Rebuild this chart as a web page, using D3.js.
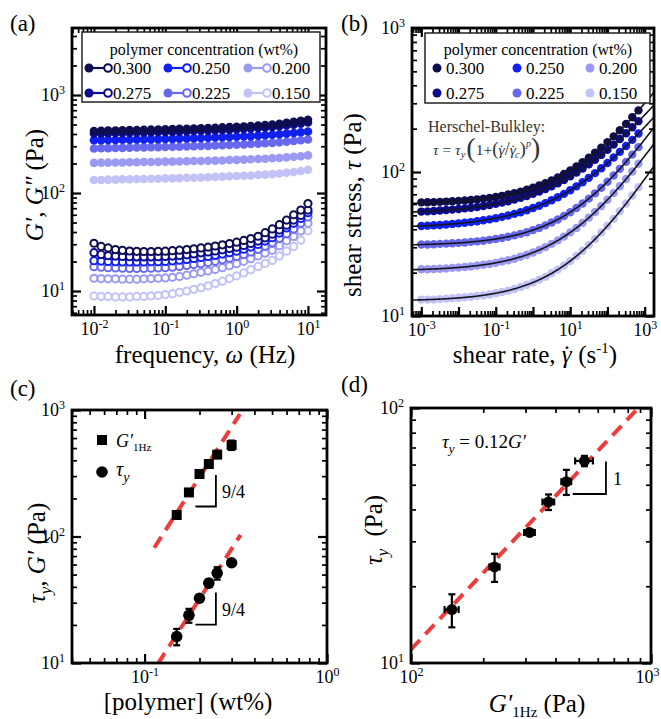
<!DOCTYPE html>
<html>
<head>
<meta charset="utf-8">
<script src="https://cdnjs.cloudflare.com/ajax/libs/d3/7.8.5/d3.min.js"></script>
<style>
  body { margin: 0; background: #fff; }
  svg, svg text { font-family: "Liberation Serif", "Times New Roman", Times, serif; }
</style>
</head>
<body>
<svg id="fig" width="661" height="719" font-family="Liberation Serif, Times New Roman, serif"></svg>
<script>
// ---- data ----
const concLabels = ['0.300', '0.275', '0.250', '0.225', '0.200', '0.150']
const concColors = ['#0d0d4f', '#0b0b8c', '#1020ee', '#6868ee', '#9a9af2', '#c2c2f6']

// (a) frequency sweeps
const freqHz = [0.01, 0.0126, 0.0158, 0.02, 0.0251, 0.0316, 0.0398, 0.0501, 0.0631, 0.0794,
  0.1, 0.126, 0.158, 0.2, 0.251, 0.316, 0.398, 0.501, 0.631, 0.794,
  1, 1.26, 1.58, 2, 2.51, 3.16, 3.98, 5.01, 6.31, 7.94, 10]
const storageMod = [
  [430,432,433,435,436,438,440,441,443,445,447,449,451,453,456,458,461,464,467,470,474,478,483,488,494,501,510,520,532,545,560],
  [405,406,408,409,411,412,414,415,417,419,421,423,425,427,429,432,434,437,440,443,447,451,455,460,466,472,480,489,499,511,525],
  [345,346,347,348,349,350,351,352,353,355,356,357,359,360,362,364,366,368,370,373,375,378,381,385,389,393,398,404,410,417,425],
  [285,286,287,288,289,290,291,292,293,294,295,296,297,299,300,302,303,305,307,309,311,313,316,319,322,325,329,334,339,345,352],
  [203,204,204,205,205,206,206,207,207,208,209,209,210,211,212,212,213,214,215,217,218,219,221,222,224,226,228,231,234,237,242],
  [136,136,137,137,138,138,139,139,140,140,141,141,142,143,143,144,145,146,147,148,149,150,151,153,154,156,158,161,164,168,173]
]
const lossMod = [
  [30.7,28.5,27.5,26.5,26.0,25.6,25.4,25.3,25.3,25.4,25.5,25.8,26.1,26.5,27.0,27.5,28.1,28.8,29.6,30.5,31.5,32.8,34.3,36.2,39.4,43.0,47.5,53.0,60.0,67.0,78.0],
  [24.6,23.6,23.0,22.7,22.5,22.4,22.3,22.3,22.3,22.4,22.5,22.7,23.0,23.4,23.9,24.5,25.0,25.6,26.3,27.1,28.0,29.2,30.6,32.3,34.9,38.0,42.0,47.0,53.0,59.0,67.0],
  [20.4,20.2,20.0,19.9,19.8,19.8,19.8,19.8,19.9,19.9,20.0,20.3,20.6,21.0,21.5,22.0,22.5,23.1,23.8,24.6,25.5,26.7,28.1,29.9,32.3,35.0,39.0,44.0,49.0,55.0,63.0],
  [17.7,17.5,17.3,17.2,17.1,17.0,17.0,17.0,17.1,17.2,17.3,17.5,17.8,18.2,18.6,19.0,19.5,20.1,20.8,21.6,22.5,23.6,25.0,26.6,28.7,31.0,34.5,38.5,43.0,49.0,57.0],
  [13.5,13.4,13.3,13.3,13.2,13.2,13.2,13.3,13.4,13.5,13.6,13.8,14.1,14.5,15.0,15.5,16.0,16.6,17.3,18.1,19.0,20.1,21.4,22.8,24.3,26.0,29.0,32.5,36.0,41.0,49.0],
  [8.9,8.8,8.8,8.7,8.7,8.7,8.8,8.8,8.9,9.0,9.2,9.4,9.7,10.0,10.4,10.8,11.3,11.9,12.6,13.4,14.3,15.3,16.5,17.8,19.1,20.5,22.8,25.5,28.5,33.0,41.0]
]

// (b) flow curves
const shearRate = [0.001, 0.00147, 0.00215, 0.00316, 0.00464, 0.00681, 0.01, 0.0147, 0.0215, 0.0316, 0.0464, 0.0681,
  0.1, 0.147, 0.215, 0.316, 0.464, 0.681, 1, 1.47, 2.15, 3.16, 4.64, 6.81,
  10, 14.7, 21.5, 31.6, 46.4, 68.1, 100, 147, 215, 316, 464, 681]
const shearStress = [
  [61.5,61.6,61.8,62.0,62.3,62.6,63.0,63.4,64.0,64.6,65.3,66.1,67.1,68.3,69.7,71.3,73.1,75.2,77.7,80.5,83.7,87.5,91.8,96.8,102.5,109.2,116.9,125.7,135.9,147.7,161.3,176.9,195.0,215.9,240.0,267.8],
  [53.1,53.3,53.6,54.0,54.4,54.8,55.3,55.9,56.5,57.2,58.1,59.0,60.1,61.3,62.7,64.3,66.1,68.2,70.5,73.2,76.2,79.7,83.6,88.1,93.2,99.0,105.6,113.1,121.6,131.4,142.4,155.0,169.4,185.7,204.3,225.4],
  [42.2,42.4,42.7,42.9,43.2,43.6,44.0,44.4,44.9,45.5,46.2,46.9,47.8,48.8,49.9,51.2,52.6,54.3,56.2,58.3,60.8,63.6,66.8,70.5,74.7,79.5,84.9,91.1,98.2,106.3,115.5,126.0,138.0,151.6,167.2,185.0],
  [31.4,31.4,31.5,31.7,31.8,32.0,32.2,32.4,32.7,33.0,33.3,33.8,34.3,34.8,35.5,36.3,37.2,38.2,39.5,40.9,42.6,44.6,46.8,49.5,52.6,56.2,60.4,65.3,71.1,77.8,85.6,94.6,105.2,117.6,132.0,148.8],
  [21.1,21.1,21.2,21.3,21.4,21.6,21.7,21.9,22.1,22.4,22.7,23.0,23.4,23.9,24.4,25.0,25.8,26.6,27.6,28.8,30.1,31.7,33.5,35.6,38.1,40.9,44.3,48.2,52.8,58.0,64.2,71.4,79.7,89.5,100.8,114.0],
  [13.0,13.0,13.0,13.1,13.2,13.3,13.4,13.5,13.6,13.8,13.9,14.1,14.4,14.7,15.0,15.4,15.9,16.5,17.1,17.9,18.7,19.8,21.0,22.4,24.1,26.1,28.4,31.1,34.3,38.0,42.3,47.4,53.4,60.4,68.6,78.3]
]
// Herschel-Bulkley fit parameters per concentration
const hbTauY = [59.4, 51.2, 40.8, 30.8, 20.6, 12.7]
const hbRateC = [23.5, 18.1, 17.2, 23.7, 15.2, 13.0]
const hbPower = [0.373, 0.337, 0.343, 0.40, 0.397, 0.414]

// (c), (d) scaling
const polymerConc = [0.15, 0.175, 0.2, 0.225, 0.25, 0.3]
const gPrime1Hz = [148, 223, 312, 374, 444, 528]
const gPrimeErr = [10, 11, 16, 21, 21, 45]
const yieldStress = [16.2, 23.8, 32.5, 42.8, 51.4, 62]
const yieldErr = [2.4, 3, 0.8, 3, 5.8, 2.9]
const powerLawExp = 2.25
const powerLawG = 11000, powerLawTau = 1200
const fitRangeG = [0.113, 0.333], fitRangeTau = [0.118, 0.336]
const ratioFit = 0.113

const SERIF = 'Liberation Serif, Times New Roman, serif'
const svg = d3.select('#fig')
const defs = svg.append('defs')

function panel(id, x0, y0, x1, y1) {
  const w = x1 - x0, h = y1 - y0
  defs.append('clipPath').attr('id', 'clip-' + id)
    .append('rect').attr('width', w).attr('height', h)
  const g = svg.append('g').attr('transform', `translate(${x0},${y0})`)
  return { g, w, h, clip: `url(#clip-${id})` }
}

// little helper for sub/superscripts
function rich(sel, parts) {
  let shift = 0
  parts.forEach(p => {
    const ts = sel.append('tspan').text(p.t)
    const s = p.s || 0
    if (s !== shift) { ts.attr('dy', s - shift); shift = s }
    if (p.i) ts.attr('font-style', 'italic')
    if (p.f) ts.attr('font-size', p.f)
    if (p.dx) ts.attr('dx', p.dx)
  })
  return sel
}
// gamma-dot: one tspan, the dot shifted back over the gamma with a per-glyph dx
const gdot = size => ({ t: 'γ˙', i: 1, dx: `0 ${-size * 0.42}` })
const gdotBack = size => size * 0.1

const isMajor = v => Math.abs(Math.log10(v) - Math.round(Math.log10(v))) < 1e-6

function addAxes(P, x, y, xLab, yLab) {
  const specs = [
    [d3.axisBottom(x), `translate(0,${P.h})`, x, xLab],
    [d3.axisTop(x), 'translate(0,0)', x, null],
    [d3.axisLeft(y), 'translate(0,0)', y, yLab],
    [d3.axisRight(y), `translate(${P.w},0)`, y, null]
  ]
  specs.forEach(([axis, tr, sc, lab]) => {
    const dom = sc.domain()
    const all = sc.ticks(Math.ceil(Math.log10(dom[1] / dom[0])) + 1)
    P.g.append('g').attr('transform', tr)
      .call(axis.tickValues(all.filter(v => !isMajor(v))).tickSizeInner(-5).tickSizeOuter(0).tickFormat(''))
      .call(s => s.select('.domain').remove())
      .call(s => s.selectAll('line').attr('stroke-width', 1.7))
    const gm = P.g.append('g').attr('transform', tr)
      .call(axis.tickValues(all.filter(isMajor)).tickSizeInner(-9).tickPadding(7).tickFormat(''))
      .call(s => s.select('.domain').remove())
      .call(s => s.selectAll('line').attr('stroke-width', 2.2))
      .attr('font-family', SERIF).attr('font-size', 18)
    if (lab) {
      gm.selectAll('.tick text').each(function (d) {
        const e = Math.round(Math.log10(d))
        if (!lab.includes(e)) return
        const t = d3.select(this)
        t.append('tspan').text('10')
        t.append('tspan').attr('dy', -7).attr('font-size', 12).text(e)
      })
    }
  })
  // drop the empty tick texts
  P.g.selectAll('.tick text').filter(function () { return !this.textContent }).remove()
  P.g.append('rect').attr('width', P.w).attr('height', P.h)
    .attr('fill', 'none').attr('stroke', '#000').attr('stroke-width', 2.8)
}

function txt(x, y, size) {
  return svg.append('text').attr('x', x).attr('y', y).attr('font-size', size).attr('font-family', SERIF)
}

function axisTitle(x, y, rotate, parts, size) {
  const t = svg.append('text').attr('text-anchor', 'middle').attr('font-size', size || 25)
    .attr('font-family', SERIF)
    .attr('transform', `translate(${x},${y})` + (rotate ? ' rotate(-90)' : ''))
  return rich(t, parts)
}

const order = [5, 4, 3, 2, 1, 0]

// ---------------- (a) ----------------
const A = panel('a', 72, 28, 326, 315)
const xa = d3.scaleLog().domain([0.00492, 17.9]).range([0, A.w])
const ya = d3.scaleLog().domain([5.69, 4830]).range([A.h, 0])
order.forEach(k => {
  A.g.append('g').selectAll('circle').data(freqHz).join('circle')
    .attr('cx', d => xa(d)).attr('cy', (d, i) => ya(storageMod[k][i]))
    .attr('r', 4.3).attr('fill', concColors[k])
  A.g.append('g').selectAll('circle').data(freqHz).join('circle')
    .attr('cx', d => xa(d)).attr('cy', (d, i) => ya(lossMod[k][i]))
    .attr('r', 3.6).attr('fill', '#fff').attr('stroke', concColors[k]).attr('stroke-width', 2)
})
addAxes(A, xa, ya, [-2, -1, 0, 1], [1, 2, 3])

const legA = svg.append('g')
legA.append('rect').attr('x', 82).attr('y', 32).attr('width', 238).attr('height', 70)
  .attr('fill', '#fff').attr('stroke', '#222').attr('stroke-width', 1.5)
txt(204, 55, 16).attr('text-anchor', 'middle').text('polymer concentration (wt%)')
concLabels.forEach((c, k) => {
  const cx = [89, 168, 248][Math.floor(k / 2)], cy = [68, 93][k % 2]
  legA.append('line').attr('x1', cx).attr('x2', cx + 19).attr('y1', cy).attr('y2', cy)
    .attr('stroke', concColors[k]).attr('stroke-width', 2.2)
  legA.append('circle').attr('cx', cx).attr('cy', cy).attr('r', 4.5).attr('fill', concColors[k])
  legA.append('circle').attr('cx', cx + 19).attr('cy', cy).attr('r', 3.8)
    .attr('fill', '#fff').attr('stroke', concColors[k]).attr('stroke-width', 2)
  txt(cx + 24, cy + 6, 17).text(c)
})

axisTitle(205, 363, false, [{ t: 'frequency, ' }, { t: 'ω', i: 1 }, { t: ' (Hz)' }])
axisTitle(43, 185, true, [{ t: 'G′', i: 1 }, { t: ', ' }, { t: 'G″', i: 1 }, { t: ' (Pa)' }])

// ---------------- (b) ----------------
const B = panel('b', 412, 28, 654, 316)
const xb = d3.scaleLog().domain([10 ** -3.25, 10 ** 3.25]).range([0, B.w])
const yb = d3.scaleLog().domain([10, 1000]).range([B.h, 0])
order.forEach(k => {
  B.g.append('g').selectAll('circle').data(shearRate).join('circle')
    .attr('cx', d => xb(d)).attr('cy', (d, i) => yb(shearStress[k][i]))
    .attr('r', 4.2).attr('fill', concColors[k])
})
const fitRates = d3.range(-3.3, 3.31, 0.02).map(e => 10 ** e)
const fitLine = d3.line().x(d => xb(d[0])).y(d => yb(d[1]))
B.g.append('g').attr('clip-path', B.clip).selectAll('path').data(hbTauY).join('path')
  .attr('d', (ty, k) => fitLine(fitRates.map(r => [r, ty * (1 + Math.pow(r / hbRateC[k], hbPower[k]))])))
  .attr('fill', 'none').attr('stroke', '#15151f').attr('stroke-width', 1.6)
addAxes(B, xb, yb, [-3, -1, 1, 3], [1, 2, 3])

const legB = svg.append('g')
legB.append('rect').attr('x', 425).attr('y', 33).attr('width', 225).attr('height', 70)
  .attr('fill', '#fff').attr('stroke', '#222').attr('stroke-width', 1.5)
txt(538, 55, 16).attr('text-anchor', 'middle').text('polymer concentration (wt%)')
concLabels.forEach((c, k) => {
  const cx = [437, 517, 590][Math.floor(k / 2)], cy = [68, 93][k % 2]
  legB.append('circle').attr('cx', cx).attr('cy', cy).attr('r', 4.5).attr('fill', concColors[k])
  txt(cx + 9, cy + 6, 17).text(c)
})
txt(428, 132, 16).attr('fill', '#333').text('Herschel-Bulkley:')
rich(txt(433, 155, 15.5).attr('fill', '#333'), [
  { t: 'τ', i: 1 }, { t: ' = ' }, { t: 'τ', i: 1 }, { t: 'y', i: 1, s: 3, f: 10.5 },
  { t: '(', s: 2, f: 28, dx: 1 }, { t: '1+', s: 0 }, { t: '(', f: 19 },
  gdot(15.5), { t: '/', f: 18, dx: gdotBack(15.5) }, gdot(15.5),
  { t: 'c', i: 1, s: 3, f: 10, dx: gdotBack(15.5) - 1 }, { t: ')', s: 0, f: 19 },
  { t: 'p', i: 1, s: -8, f: 10 }, { t: ')', s: 2, f: 28 }
])

axisTitle(535, 363, false, [{ t: 'shear rate, ' }, gdot(25), { t: ' (s', dx: gdotBack(25) }, { t: '-1', s: -10, f: 15 }, { t: ')', s: 0 }])
axisTitle(361, 205, true, [{ t: 'shear stress, ' }, { t: 'τ', i: 1 }, { t: ' (Pa)' }])

// ---------------- (c) ----------------
const C = panel('c', 72, 410, 327, 663)
const xc = d3.scaleLog().domain([0.04, 1]).range([0, C.w])
const yc = d3.scaleLog().domain([10, 1000]).range([C.h, 0])
const dashed = g => g.attr('fill', 'none').attr('stroke', '#ee3b3b').attr('stroke-width', 4).attr('stroke-dasharray', '13,8')
const lineC = d3.line().x(d => xc(d[0])).y(d => yc(d[1]))
C.g.append('path').attr('clip-path', C.clip)
  .attr('d', lineC(fitRangeG.map(c => [c, powerLawG * Math.pow(c, powerLawExp)]))).call(dashed)
C.g.append('path').attr('clip-path', C.clip)
  .attr('d', lineC(fitRangeTau.map(c => [c, powerLawTau * Math.pow(c, powerLawExp)]))).call(dashed)

function errBars(g, pts, sx, sy, xv, yv, xe, ye) {
  const eg = g.append('g').attr('stroke', '#000').attr('stroke-width', 2.2)
  pts.forEach((_, i) => {
    const x = sx(xv[i]), y = sy(yv[i])
    if (ye) {
      const y1 = sy(yv[i] - ye[i]), y2 = sy(yv[i] + ye[i])
      eg.append('line').attr('x1', x).attr('x2', x).attr('y1', y1).attr('y2', y2)
      eg.append('line').attr('x1', x - 3.5).attr('x2', x + 3.5).attr('y1', y1).attr('y2', y1)
      eg.append('line').attr('x1', x - 3.5).attr('x2', x + 3.5).attr('y1', y2).attr('y2', y2)
    }
    if (xe) {
      const x1 = sx(xv[i] - xe[i]), x2 = sx(xv[i] + xe[i])
      eg.append('line').attr('x1', x1).attr('x2', x2).attr('y1', y).attr('y2', y)
      eg.append('line').attr('x1', x1).attr('x2', x1).attr('y1', y - 3.5).attr('y2', y + 3.5)
      eg.append('line').attr('x1', x2).attr('x2', x2).attr('y1', y - 3.5).attr('y2', y + 3.5)
    }
  })
}
errBars(C.g, polymerConc, xc, yc, polymerConc, gPrime1Hz, null, gPrimeErr)
errBars(C.g, polymerConc, xc, yc, polymerConc, yieldStress, null, yieldErr)
C.g.append('g').selectAll('rect').data(polymerConc).join('rect')
  .attr('x', d => xc(d) - 5).attr('y', (d, i) => yc(gPrime1Hz[i]) - 5)
  .attr('width', 10).attr('height', 10).attr('fill', '#000')
C.g.append('g').selectAll('circle').data(polymerConc).join('circle')
  .attr('cx', d => xc(d)).attr('cy', (d, i) => yc(yieldStress[i])).attr('r', 5.8).attr('fill', '#000')

const triLine = d3.line().x(d => xc(d[0])).y(d => yc(d[1]))
const triG = [[0.19, 172.6], [0.246, 172.6], [0.246, 307]]
const triT = [[0.19, 20.1], [0.246, 20.1], [0.246, 36.1]]
;[triG, triT].forEach(t => {
  C.g.append('path').attr('d', triLine(t)).attr('fill', 'none').attr('stroke', '#000').attr('stroke-width', 1.8)
  C.g.append('text').attr('x', xc(t[1][0]) + 6).attr('y', yc(Math.sqrt(t[1][1] * t[2][1])) + 7)
    .attr('font-size', 18).attr('font-family', SERIF).text('9/4')
})
svg.append('rect').attr('x', 97).attr('y', 435).attr('width', 10).attr('height', 10).attr('fill', '#000')
rich(txt(116, 447, 18), [{ t: 'G′', i: 1 }, { t: '1Hz', s: 4, f: 11 }])
svg.append('circle').attr('cx', 102).attr('cy', 472).attr('r', 5.8).attr('fill', '#000')
rich(txt(116, 476, 20), [{ t: 'τ', i: 1 }, { t: 'y', i: 1, s: 6, f: 14 }])
addAxes(C, xc, yc, [-1, 0], [1, 2, 3])

axisTitle(188, 710, false, [{ t: '[polymer] (wt%)' }])
axisTitle(45, 553, true, [{ t: 'τ', i: 1 }, { t: 'y', i: 1, s: 6, f: 17 }, { t: ', ', s: 0 }, { t: 'G′', i: 1 }, { t: ' (Pa)' }])

// ---------------- (d) ----------------
const D = panel('d', 411, 408, 651, 663)
const xd = d3.scaleLog().domain([100, 1000]).range([0, D.w])
const yd = d3.scaleLog().domain([10, 100]).range([D.h, 0])
const lineD = d3.line().x(d => xd(d[0])).y(d => yd(d[1]))
D.g.append('path').attr('clip-path', D.clip)
  .attr('d', lineD([100, 1000].map(g => [g, ratioFit * g]))).call(dashed)
errBars(D.g, gPrime1Hz, xd, yd, gPrime1Hz, yieldStress, gPrimeErr, yieldErr)
D.g.append('g').selectAll('circle').data(gPrime1Hz).join('circle')
  .attr('cx', d => xd(d)).attr('cy', (d, i) => yd(yieldStress[i])).attr('r', 5.5).attr('fill', '#000')
const triD = [[472, 46], [649, 46], [649, 61.7]]
D.g.append('path').attr('d', lineD(triD)).attr('fill', 'none').attr('stroke', '#000').attr('stroke-width', 1.8)
D.g.append('text').attr('x', xd(649) + 7).attr('y', yd(53) + 7).attr('font-size', 18).attr('font-family', SERIF).text('1')
addAxes(D, xd, yd, [2, 3], [1, 2])
// keep the 10^3 label of (d) inside the page
D.g.selectAll('.tick text').filter(d => d === 1000).attr('dx', -4)
rich(txt(442, 448, 19), [
  { t: 'τ', i: 1 }, { t: 'y', i: 1, s: 5, f: 13 }, { t: ' = 0.12', s: 0 }, { t: 'G′', i: 1 }
])

axisTitle(537, 712, false, [{ t: 'G′', i: 1 }, { t: '1Hz', s: 5, f: 15 }, { t: ' (Pa)', s: 0 }])
axisTitle(382, 530, true, [{ t: 'τ', i: 1 }, { t: 'y', i: 1, s: 6, f: 17 }, { t: '(Pa)', s: 0, dx: 12 }])

// panel letters
;[['(a)', 10, 31], ['(b)', 341, 31], ['(c)', 10, 396], ['(d)', 341, 392]].forEach(([t, x, y]) =>
  txt(x, y, 23).text(t))
</script>
</body>
</html>
